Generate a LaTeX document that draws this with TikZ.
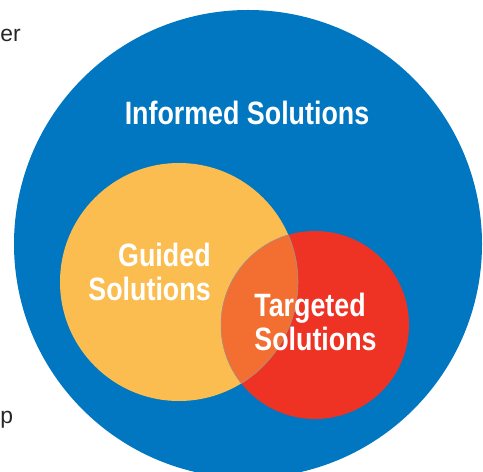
\documentclass[tikz,border=0pt]{standalone}
\usepackage{fontspec}
\setmainfont{Liberation Sans}
\newfontfamily\narrowbold[FakeStretch=0.83]{Liberation Sans Bold}
\definecolor{infoblue}{HTML}{0077C0}
\definecolor{guideyellow}{HTML}{FBBC50}
\definecolor{targetred}{HTML}{EE3325}
\definecolor{overlaporange}{HTML}{F26E31}
\tikzset{
    setlabel/.style={text=white, font=\narrowbold\fontsize{18.4}{19.5}\selectfont, inner sep=0pt},
    sidetext/.style={text=black!85, font=\fontsize{13}{15}\selectfont, inner sep=0pt}
}
\begin{document}
\begin{tikzpicture}[x=0.02cm, y=-0.02cm]
    \useasboundingbox (0,0) rectangle (483,472);
    \clip (0,0) rectangle (483,472);
    \fill [infoblue] (248,244) circle (234);
    \fill [guideyellow] (179,282) circle (119);
    \fill [targetred] (315,325) circle (94);
    \begin{scope}
    \clip (179,282) circle (119);
    \fill [overlaporange] (315,325) circle (94);
    \draw [black!40, line width=0.3pt] (315,325) circle (94);
    \end{scope}
    \begin{scope}
    \clip (315,325) circle (94);
    \draw [black!40, line width=0.3pt] (179,282) circle (119);
    \end{scope}
    \node [setlabel] (informed) at (247,113) {Informed Solutions};
    \node [setlabel, align=right, anchor=east] (guided) at (211,272) {Guided\\Solutions};
    \node [setlabel, align=left, anchor=west] (targeted) at (254,322) {Targeted\\Solutions};
    \node [sidetext, anchor=west] (topfrag) at (0,35) {er};
    \node [sidetext, anchor=west] (botfrag) at (0,420) {p};
\end{tikzpicture}
\end{document}
